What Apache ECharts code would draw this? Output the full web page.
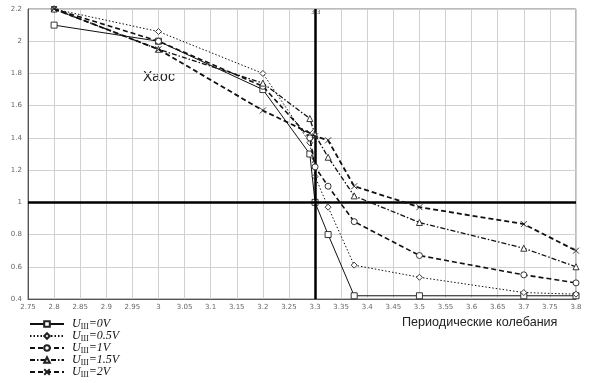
<!DOCTYPE html>
<html><head><meta charset="utf-8">
<script src="https://cdn.jsdelivr.net/npm/echarts@6/dist/echarts.min.js"></script>
<style>html,body{margin:0;padding:0;background:#fff}#c{width:595px;height:383px}</style>
</head><body><div id="c"></div>
<script>
const xs = [2.8, 3.0, 3.2, 3.29, 3.3, 3.325, 3.375, 3.5, 3.7, 3.8];
const u0  = [2.10, 2.00, 1.70, 1.30, 1.00, 0.80, 0.42, 0.42, 0.42, 0.42];
const u05 = [2.20, 2.06, 1.80, 1.37, 1.16, 0.97, 0.61, 0.535, 0.44, 0.43];
const u1  = [2.20, 2.00, 1.72, 1.40, 1.22, 1.10, 0.88, 0.67, 0.55, 0.50];
const u15 = [2.20, 1.95, 1.74, 1.52, 1.42, 1.28, 1.04, 0.875, 0.715, 0.60];
const u2  = [2.20, 1.95, 1.57, 1.43, 1.41, 1.385, 1.10, 0.97, 0.865, 0.70];
const seriesNames = ['0V', '0.5V', '1V', '1.5V', '2V'];
const xTicks = {min: 2.75, max: 3.8, step: 0.05};
const yTicks = {min: 0.4, max: 2.2, step: 0.2};
const refX = 3.3, refY = 1.0;

const pair = v => xs.map((x, i) => [x, v[i]]);
const styles = [
  {data: u0,  type: 'solid', sym: 'rect', w: 1},
  {data: u05, type: [1.5, 2], sym: 'diamond', w: 1},
  {data: u1,  type: [5, 3], sym: 'circle', w: 1.6},
  {data: u15, type: [5, 2, 1.5, 2], sym: 'triangle', w: 1.3},
  {data: u2,  type: [5, 3], sym: 'path://M0,0 L10,10 M10,0 L0,10', w: 1.8}
];
const series = styles.map((s, i) => ({
  name: seriesNames[i], type: 'line', data: pair(s.data),
  symbol: s.sym, symbolSize: 6, showSymbol: true,
  itemStyle: {color: '#fff', borderColor: '#222', borderWidth: 0.9},
  lineStyle: {color: '#111', width: s.w, type: s.type},
  z: 3 + i, animation: false
}));
series.push({
  type: 'line', data: [], silent: true,
  markLine: {
    symbol: 'none', silent: true, animation: false,
    label: {show: false},
    lineStyle: {color: '#000', width: 2.5, type: 'solid'},
    data: [{xAxis: refX}, {yAxis: refY}]
  }
});
const legends = seriesNames.map((n, i) => ({
  orient: 'horizontal', left: 29, top: 318 + i * 12, itemWidth: 34, itemHeight: 7,
  itemGap: 0, padding: 0, data: [n],
  formatter: nm => '{i|U}{s|Ш}{i|=' + nm + '}',
  textStyle: {
    color: '#111', padding: [0, 0, 0, 3],
    rich: {
      i: {fontFamily: 'Liberation Serif', fontStyle: 'italic', fontSize: 12, color: '#111'},
      s: {fontFamily: 'Liberation Serif', fontSize: 8, color: '#111', padding: [5, 0, 0, 0]}
    }
  }
}));
const chart = echarts.init(document.getElementById('c'));
chart.setOption({
  animation: false,
  backgroundColor: '#fff',
  grid: {left: 28, right: 19, top: 9, bottom: 84, show: true, borderColor: '#777', borderWidth: 1},
  xAxis: {
    type: 'value', min: xTicks.min, max: xTicks.max, interval: xTicks.step,
    axisLine: {show: true, lineStyle: {color: '#555'}}, axisTick: {show: false},
    axisLabel: {fontSize: 7, color: '#666', margin: 5, fontFamily: 'DejaVu Sans',
      formatter: v => String(+v.toFixed(2))},
    splitLine: {show: true, lineStyle: {color: '#d0d0d0', width: 1}}
  },
  yAxis: {
    type: 'value', min: yTicks.min, max: yTicks.max, interval: yTicks.step,
    axisLine: {show: true, lineStyle: {color: '#555'}}, axisTick: {show: false},
    axisLabel: {fontSize: 7, color: '#666', margin: 6, fontFamily: 'DejaVu Sans',
      formatter: v => String(+v.toFixed(1))},
    splitLine: {show: true, lineStyle: {color: '#d0d0d0', width: 1}}
  },
  legend: legends,
  graphic: [
    {type: 'text', left: 143, top: 70, style: {text: 'Хаос', font: '14px "Liberation Sans"', fill: '#222'}},
    {type: 'text', left: 402, top: 316, style: {text: 'Периодические колебания', font: '12.6px "Liberation Sans"', fill: '#222'}},
    {type: 'text', left: 311, top: 9, style: {text: '3.3', font: '6px "DejaVu Sans"', fill: '#555'}}
  ],
  series: series
});
</script></body></html>
